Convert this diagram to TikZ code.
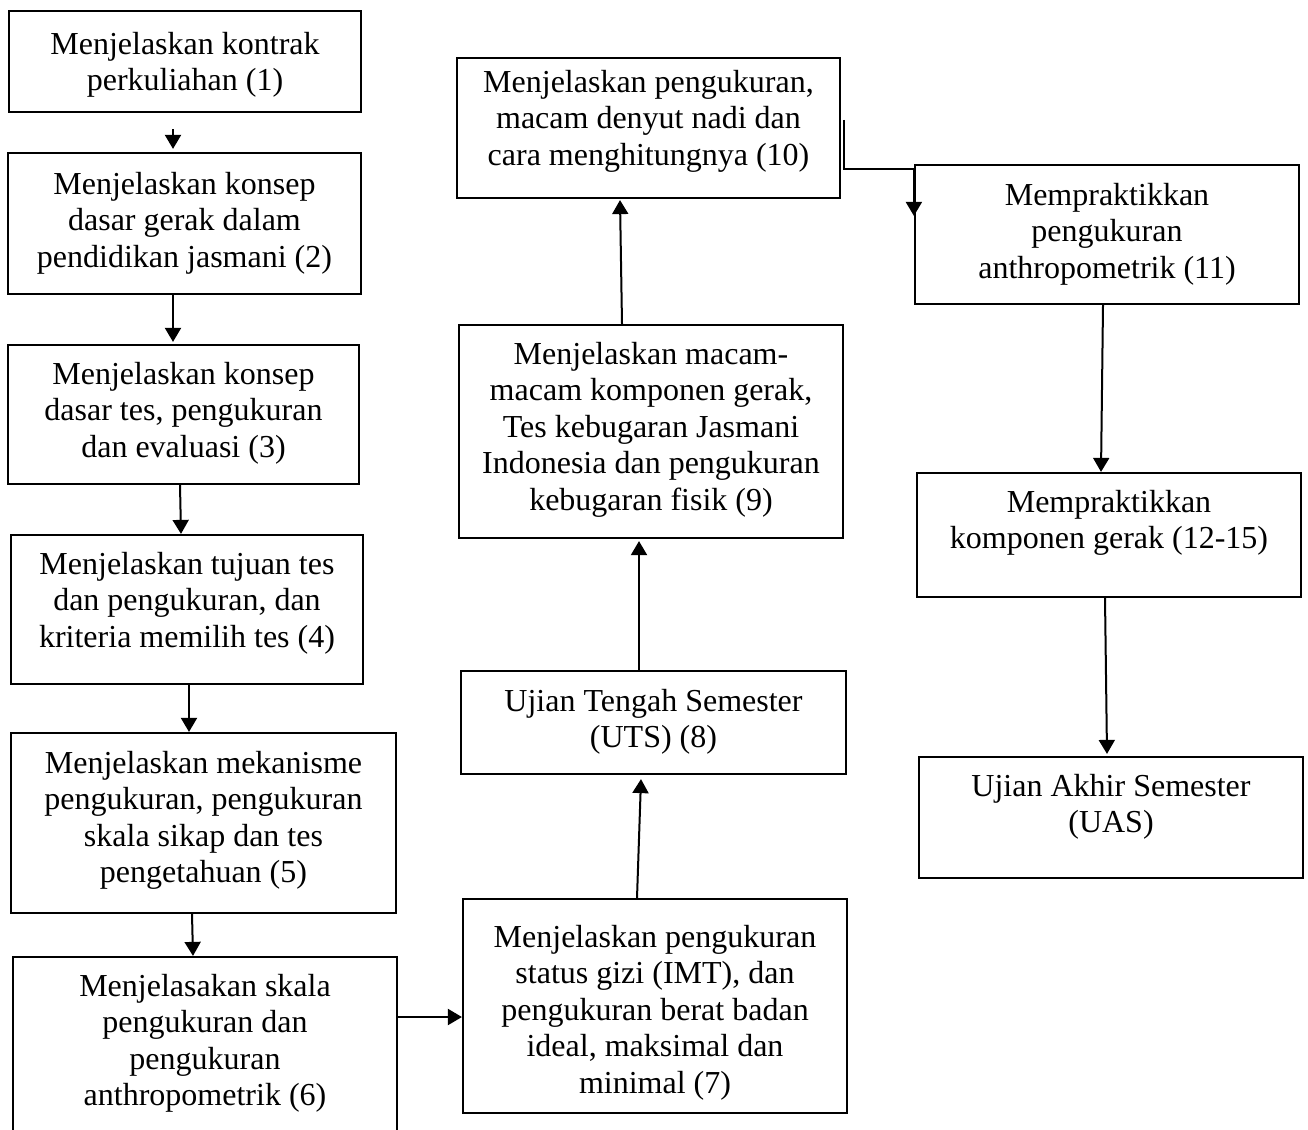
\documentclass[tikz,border=0pt]{standalone}
\usepackage{fontspec}
\setmainfont[Ligatures={TeX,NoCommon}]{Liberation Serif}
\usetikzlibrary{arrows.meta}
\tikzset{
  box/.style={draw, line width=2.2pt, inner sep=0pt, rectangle},
  txt/.style={align=center, inner sep=0pt, anchor=north, font=\fontsize{32}{36.5}\selectfont},
  arr/.style={line width=2pt, -{Triangle[length=14pt,width=16pt]}}
}
\newcommand{\flowbox}[7]{% name, left, top, right, bottom, text offset, text
  \node[box, minimum width={(#4-#2)*1pt}, minimum height={(#5-#3)*1pt}] (#1) at ({(#2+#4)/2},{(#3+#5)/2}) {};
  \node[txt] (#1t) at ([yshift={-(#6-22)*1pt}]#1.north) {#7};
}
\begin{document}
\begin{tikzpicture}[x=1pt,y=-1pt]
\useasboundingbox (0,0) rectangle (1308,1129);
\clip (0,0) rectangle (1308,1129);
\fill[white] (0,0) rectangle (1308,1129);

\flowbox{n1}{9}{11}{361}{112}{44}{Menjelaskan kontrak\\perkuliahan (1)}
\flowbox{n2}{8}{153}{361}{294}{42}{Menjelaskan konsep\\dasar gerak dalam\\pendidikan jasmani (2)}
\flowbox{n3}{8}{345}{359}{484}{40}{Menjelaskan konsep\\dasar tes, pengukuran\\dan evaluasi (3)}
\flowbox{n4}{11}{535}{363}{684}{40}{Menjelaskan tujuan tes\\dan pengukuran, dan\\kriteria memilih tes (4)}
\flowbox{n5}{11}{733}{396}{913}{41}{Menjelaskan mekanisme\\pengukuran, pengukuran\\skala sikap dan tes\\pengetahuan (5)}
\flowbox{n6}{13}{957}{397}{1140}{40}{Menjelasakan skala\\pengukuran dan\\pengukuran\\anthropometrik (6)}
\flowbox{n7}{463}{899}{847}{1113}{49}{Menjelaskan pengukuran\\status gizi (IMT), dan\\pengukuran berat badan\\ideal, maksimal dan\\minimal (7)}
\flowbox{n8}{461}{671}{846}{774}{41}{Ujian Tengah Semester\\(UTS) (8)}
\flowbox{n9}{459}{325}{843}{538}{40}{Menjelaskan macam-\\macam komponen gerak,\\Tes kebugaran Jasmani\\Indonesia dan pengukuran\\kebugaran fisik (9)}
\flowbox{n10}{457}{58}{840}{198}{35}{Menjelaskan pengukuran,\\macam denyut nadi dan\\cara menghitungnya (10)}
\flowbox{n11}{915}{165}{1299}{304}{41}{Mempraktikkan\\pengukuran\\anthropometrik (11)}
\flowbox{n12}{917}{473}{1301}{597}{40}{Mempraktikkan\\komponen gerak (12-15)}
\flowbox{n13}{919}{757}{1303}{878}{40}{Ujian Akhir Semester\\(UAS)}

\draw[arr] ([xshift=-12pt,yshift=-16pt]n1.south) -- ([xshift=-11.5pt,yshift=3pt]n2.north);
\draw[arr] ([xshift=-11.5pt]n2.south) -- ([xshift=-10.5pt,yshift=2pt]n3.north);
\draw[arr] ([xshift=-3.5pt]n3.south) -- ([xshift=-6pt]n4.north);
\draw[arr] ([xshift=2pt]n4.south) -- ([xshift=-14.5pt]n5.north);
\draw[arr] ([xshift=-11.5pt]n5.south) -- ([xshift=-12pt]n6.north);
\draw[arr] ([yshift=31.5pt]n6.east) -- ([yshift=-11pt]n7.west);
\draw[arr] ([xshift=-18pt]n7.north) -- ([xshift=-12.5pt,yshift=-4pt]n8.south);
\draw[arr] ([xshift=-14.5pt]n8.north) -- ([xshift=-12pt,yshift=-2pt]n9.south);
\draw[arr] ([xshift=-29pt]n9.north) -- ([xshift=-28.5pt,yshift=-1pt]n10.south);
\draw[arr] ([xshift=3pt,yshift=-63pt]n10.north east) |- ([yshift=-5pt]n11.north west) -- ([yshift=-52pt]n11.north west);
\draw[arr] ([xshift=-4pt]n11.south) -- ([xshift=-8pt]n12.north);
\draw[arr] ([xshift=-4pt]n12.south) -- ([xshift=-4pt,yshift=2pt]n13.north);
\end{tikzpicture}
\end{document}
